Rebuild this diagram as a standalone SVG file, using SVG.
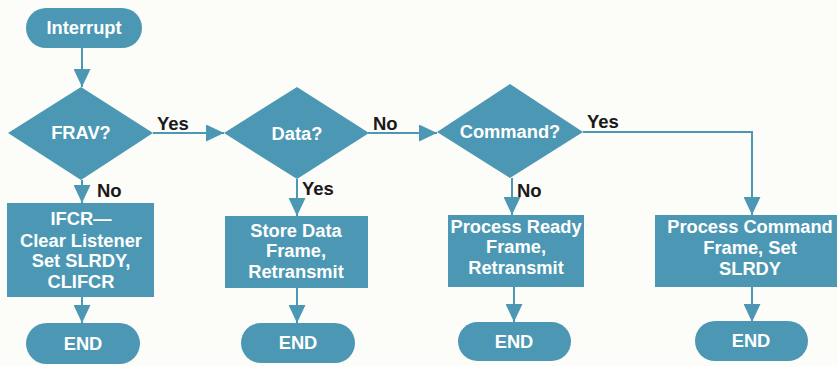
<svg xmlns="http://www.w3.org/2000/svg" width="837" height="366" viewBox="0 0 837 366">
  <style>
    .shape { fill: #4c98b4; }
    .node-text { fill: #ffffff; font-family: "Liberation Sans", Arial, sans-serif; font-weight: bold; font-size: 18.3px; text-anchor: middle; }
    .label { fill: #1a1a1a; font-family: "Liberation Sans", Arial, sans-serif; font-weight: bold; font-size: 18.5px; }
    .wire { stroke: #4c98b4; stroke-width: 2; fill: none; }
  </style>
  <defs>
    <marker id="arrow" viewBox="0 0 18 17" refX="18" refY="8.5" markerWidth="18" markerHeight="17" markerUnits="userSpaceOnUse" orient="auto">
      <path d="M0,0 L18,8.5 L0,17 Z" fill="#4c98b4"/>
    </marker>
  </defs>
  <rect width="837" height="366" fill="#fcfcf8"/>

  <g id="connectors">
    <path class="wire" d="M82,48 V87" marker-end="url(#arrow)"/>
    <path class="wire" d="M153,133 H224" marker-end="url(#arrow)"/>
    <path class="wire" d="M82,180 V203" marker-end="url(#arrow)"/>
    <path class="wire" d="M368,133 H437" marker-end="url(#arrow)"/>
    <path class="wire" d="M297,179 V216" marker-end="url(#arrow)"/>
    <path class="wire" d="M583,132 H752 V215" marker-end="url(#arrow)"/>
    <path class="wire" d="M512,178 V215" marker-end="url(#arrow)"/>
    <path class="wire" d="M82,297 V323" marker-end="url(#arrow)"/>
    <path class="wire" d="M297,288 V323" marker-end="url(#arrow)"/>
    <path class="wire" d="M514,287 V322" marker-end="url(#arrow)"/>
    <path class="wire" d="M752,287 V322" marker-end="url(#arrow)"/>
    <text class="label" x="157" y="130">Yes</text>
    <text class="label" x="97" y="197">No</text>
    <text class="label" x="373" y="130">No</text>
    <text class="label" x="302" y="195">Yes</text>
    <text class="label" x="587" y="128">Yes</text>
    <text class="label" x="517" y="197">No</text>
  </g>

  <g id="interrupt">
    <rect class="shape" x="26" y="8" width="116" height="40" rx="20"/>
    <text class="node-text" x="84" y="34">Interrupt</text>
  </g>

  <g id="frav">
    <polygon class="shape" points="81,87 153,133 81,180 8,133"/>
    <text class="node-text" x="81" y="139">FRAV?</text>
  </g>

  <g id="data">
    <polygon class="shape" points="297,87 369,133 297,179 224,133"/>
    <text class="node-text" x="297" y="140">Data?</text>
  </g>

  <g id="command">
    <polygon class="shape" points="510,84 583,132 510,178 437,132"/>
    <text class="node-text" x="510" y="138">Command?</text>
  </g>

  <g id="ifcr">
    <rect class="shape" x="7" y="203" width="147" height="94"/>
    <text class="node-text" x="81" y="225">IFCR—</text>
    <text class="node-text" x="81" y="247">Clear Listener</text>
    <text class="node-text" x="81" y="267">Set SLRDY,</text>
    <text class="node-text" x="81" y="288">CLIFCR</text>
  </g>

  <g id="store-data">
    <rect class="shape" x="225" y="216" width="143" height="72"/>
    <text class="node-text" x="296" y="237">Store Data</text>
    <text class="node-text" x="296" y="257">Frame,</text>
    <text class="node-text" x="296" y="278">Retransmit</text>
  </g>

  <g id="process-ready">
    <rect class="shape" x="448" y="215" width="136" height="72"/>
    <text class="node-text" x="516" y="233">Process Ready</text>
    <text class="node-text" x="516" y="253">Frame,</text>
    <text class="node-text" x="516" y="274">Retransmit</text>
  </g>

  <g id="process-command">
    <rect class="shape" x="655" y="215" width="190" height="72"/>
    <text class="node-text" x="750" y="233">Process Command</text>
    <text class="node-text" x="750" y="254">Frame, Set</text>
    <text class="node-text" x="750" y="275">SLRDY</text>
  </g>

  <g id="end-1">
    <rect class="shape" x="26" y="323" width="114" height="41" rx="20.5"/>
    <text class="node-text" x="83" y="350">END</text>
  </g>

  <g id="end-2">
    <rect class="shape" x="241" y="323" width="114" height="40" rx="20"/>
    <text class="node-text" x="298" y="349">END</text>
  </g>

  <g id="end-3">
    <rect class="shape" x="458" y="322" width="113" height="39" rx="19.5"/>
    <text class="node-text" x="514" y="348">END</text>
  </g>

  <g id="end-4">
    <rect class="shape" x="695" y="321" width="113" height="40" rx="20"/>
    <text class="node-text" x="751" y="347">END</text>
  </g>
</svg>
